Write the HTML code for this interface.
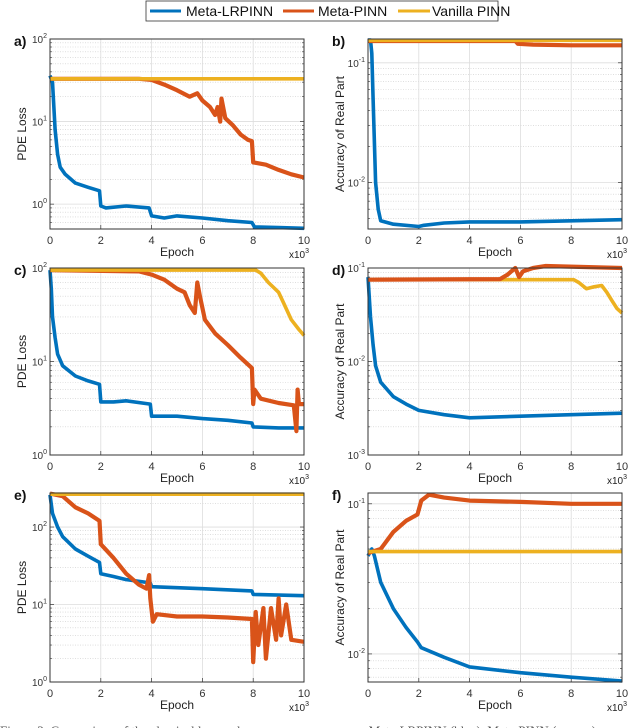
<!DOCTYPE html>
<html><head><meta charset="utf-8"><style>
html,body{margin:0;padding:0;background:#fff;width:640px;height:728px;overflow:hidden}
svg{display:block;font-family:"Liberation Sans",Arial,sans-serif}
</style></head><body>
<svg id="fig" width="640" height="728">
<g>
<rect x="146" y="1" width="352" height="20" fill="#fff" stroke="#333" stroke-width="0.8"/>
<g><line x1="150" y1="11" x2="181" y2="11" stroke="#0072BD" stroke-width="3"/><text x="186" y="16" font-size="14" fill="#111">Meta-LRPINN</text></g>
<g><line x1="283" y1="11" x2="314" y2="11" stroke="#D95319" stroke-width="3"/><text x="318" y="16" font-size="14" fill="#111">Meta-PINN</text></g>
<g><line x1="398" y1="11" x2="430" y2="11" stroke="#EDB120" stroke-width="3"/><text x="432" y="16" font-size="14" fill="#111">Vanilla PINN</text></g>
</g>
<text x="0" y="735" font-family="Liberation Serif,serif" font-size="13" fill="#555">Figure 3: Comparison of the classical loss and accuracy curves among Meta-LRPINN (blue), Meta-PINN (orange)</text>
</svg>
<script>
// ---- data (epoch in thousands) ----
const aBlueX=[0,0.1,0.2,0.3,0.4,0.6,1,1.5,1.95,2.0,2.2,3,3.9,4.0,4.5,5,6,7,7.95,8.05,9,10];
const aBlueY=[36,30,8,4,2.8,2.3,1.8,1.6,1.45,0.95,0.9,0.95,0.9,0.72,0.68,0.72,0.68,0.63,0.6,0.53,0.52,0.51];
const aOrX=[0,3.5,4,4.5,5,5.5,5.8,6,6.3,6.5,6.6,6.7,6.75,6.9,7.2,7.5,7.8,7.95,8.0,8.5,9,9.5,10];
const aOrY=[33,33,32,28,24,20,22,18,15,12,15,10,19,11,9,7,6,5.8,3.2,3,2.6,2.3,2.1];
const aYeX=[0,10];const aYeY=[33,33];

const bBlueX=[0,0.1,0.15,0.2,0.3,0.4,0.5,1,2,2.2,3,4,6,8,10];
const bBlueY=[0.155,0.155,0.12,0.05,0.01,0.006,0.0048,0.0045,0.0043,0.0044,0.0046,0.0047,0.0047,0.0048,0.0049];
const bOrX=[0,5.8,5.9,6.5,8,10];const bOrY=[0.152,0.152,0.144,0.142,0.14,0.14];
const bYeX=[0,10];const bYeY=[0.154,0.154];

const cBlueX=[0,0.05,0.1,0.2,0.3,0.5,1,1.5,1.95,2.0,2.5,3,3.95,4.0,5,6,7,7.95,8.0,9,10];
const cBlueY=[95,60,30,18,12,9,7,6.2,5.7,3.7,3.7,3.8,3.5,2.6,2.6,2.45,2.35,2.2,2.0,1.95,1.95];
const cOrX=[0,3.5,4,4.5,5,5.3,5.5,5.7,5.8,5.9,6.1,6.5,7,7.5,7.95,8.0,8.05,8.3,9,9.6,9.7,9.75,9.8,10];
const cOrY=[95,92,85,75,60,55,40,33,70,50,28,20,15,11,8.5,3.5,5,4,3.6,3.4,1.8,5,3.5,3.5];
const cYeX=[0,8.1,8.3,8.6,9,9.2,9.5,9.8,10];
const cYeY=[95,95,88,70,55,42,28,22,19];

const dBlueX=[0,0.1,0.2,0.3,0.5,1,1.5,2,3,4,6,8,10];
const dBlueY=[0.08,0.03,0.015,0.009,0.006,0.0042,0.0035,0.003,0.0027,0.0025,0.0026,0.0027,0.0028];
const dOrX=[0,5.2,5.5,5.7,5.8,5.95,6.1,6.5,7,10];
const dOrY=[0.075,0.076,0.085,0.095,0.1,0.08,0.092,0.1,0.105,0.1];
const dYeX=[0,8.1,8.3,8.6,8.9,9.2,9.4,9.6,9.8,10];
const dYeY=[0.075,0.075,0.07,0.06,0.063,0.065,0.055,0.045,0.037,0.033];

const eBlueX=[0,0.1,0.3,0.5,1,1.5,1.95,2.0,2.5,3,3.95,4.0,6,7.95,8.0,10];
const eBlueY=[260,150,100,75,52,42,35,25,23,21,19,17,16,15,13.5,13];
const eOrX=[0,0.5,1,1.5,1.95,2.0,2.5,3,3.5,3.8,3.9,3.95,4.05,4.2,5,6,7,7.95,8.0,8.1,8.2,8.4,8.5,8.7,8.9,9.0,9.1,9.3,9.5,10];
const eOrY=[270,250,180,150,120,60,40,25,18,16,24,12,6,7.5,7,7,6.8,6.5,1.8,8,3,9,2,9,3.5,12,4,10,3.5,3.3];
const eYeX=[0,10];const eYeY=[265,265];

const fBlueX=[0,0.15,0.25,0.5,1,1.5,1.95,2.1,3,4,6,8,10];
const fBlueY=[0.045,0.05,0.045,0.03,0.02,0.015,0.012,0.011,0.0095,0.0082,0.0075,0.007,0.0066];
const fOrX=[0,0.5,1,1.5,1.95,2.1,2.4,3,4,6,8,10];
const fOrY=[0.047,0.05,0.065,0.077,0.085,0.105,0.115,0.11,0.105,0.103,0.1,0.1];
const fYeX=[0,10];const fYeY=[0.048,0.048];

const xTicks=[0,2,4,6,8,10];

const NS="http://www.w3.org/2000/svg";
const svg=document.getElementById('fig');
function mk(tag,attrs,parent){const e=document.createElementNS(NS,tag);for(const k in attrs)e.setAttribute(k,attrs[k]);parent.appendChild(e);return e;}

const panels=[
 {id:'a',L:50,R:304,T:39,B:229,ymin:0.5,ymax:100,ylab:'PDE Loss',s:[[aBlueX,aBlueY,'#0072BD','meta-lrpinn'],[aOrX,aOrY,'#D95319','meta-pinn'],[aYeX,aYeY,'#EDB120','vanilla-pinn']]},
 {id:'b',L:368,R:622,T:39,B:229,ymin:0.0041,ymax:0.158,ylab:'Accuracy of Real Part',s:[[bBlueX,bBlueY,'#0072BD','meta-lrpinn'],[bOrX,bOrY,'#D95319','meta-pinn'],[bYeX,bYeY,'#EDB120','vanilla-pinn']]},
 {id:'c',L:50,R:304,T:268,B:455,ymin:1,ymax:100,ylab:'PDE Loss',s:[[cBlueX,cBlueY,'#0072BD','meta-lrpinn'],[cOrX,cOrY,'#D95319','meta-pinn'],[cYeX,cYeY,'#EDB120','vanilla-pinn']]},
 {id:'d',L:368,R:622,T:268,B:455,ymin:0.001,ymax:0.1,ylab:'Accuracy of Real Part',s:[[dBlueX,dBlueY,'#0072BD','meta-lrpinn'],[dYeX,dYeY,'#EDB120','vanilla-pinn'],[dOrX,dOrY,'#D95319','meta-pinn']]},
 {id:'e',L:50,R:304,T:493,B:682,ymin:1,ymax:275,ylab:'PDE Loss',s:[[eBlueX,eBlueY,'#0072BD','meta-lrpinn'],[eOrX,eOrY,'#D95319','meta-pinn'],[eYeX,eYeY,'#EDB120','vanilla-pinn']]},
 {id:'f',L:368,R:622,T:493,B:682,ymin:0.0065,ymax:0.118,ylab:'Accuracy of Real Part',s:[[fBlueX,fBlueY,'#0072BD','meta-lrpinn'],[fOrX,fOrY,'#D95319','meta-pinn'],[fYeX,fYeY,'#EDB120','vanilla-pinn']]}
];

panels.forEach(p=>{
 const g=mk('g',{},svg);
 
 
 const lmin=Math.log10(p.ymin),lmax=Math.log10(p.ymax);
 const X=v=>p.L+(v/10)*(p.R-p.L);
 const Y=v=>p.B-(Math.log10(v)-lmin)/(lmax-lmin)*(p.B-p.T);
 mk('rect',{x:p.L,y:p.T,width:p.R-p.L,height:p.B-p.T,fill:'#fff'},g);
 const grid=mk('g',{},g);
 
 
 for(let e=Math.floor(lmin);e<=Math.ceil(lmax);e++){
  for(let m=1;m<10;m++){
   const v=m*Math.pow(10,e);
   if(v<p.ymin*0.999||v>p.ymax*1.001)continue;
   const y=Y(v);
   if(m===1){
    mk('line',{x1:p.L,x2:p.R,y1:y,y2:y,stroke:'#ddd','stroke-width':0.8},grid);
    const t=mk('text',{x:p.L-3,y:y+4,'text-anchor':'end','font-size':10,fill:'#333'},g);
    
    
    t.textContent='10';
    const sp=mk('tspan',{dy:-5,'font-size':7},t);sp.textContent=String(e);
    mk('line',{x1:p.L,x2:p.L+4,y1:y,y2:y,stroke:'#333','stroke-width':0.7},g);
    mk('line',{x1:p.R,x2:p.R-4,y1:y,y2:y,stroke:'#333','stroke-width':0.7},g);
   }else{
    mk('line',{x1:p.L,x2:p.R,y1:y,y2:y,stroke:'#ccc','stroke-width':0.6,'stroke-dasharray':'1,1.5'},grid);
    mk('line',{x1:p.L,x2:p.L+2,y1:y,y2:y,stroke:'#333','stroke-width':0.6},g);
    mk('line',{x1:p.R,x2:p.R-2,y1:y,y2:y,stroke:'#333','stroke-width':0.6},g);
   }
  }
 }
 xTicks.forEach(v=>{
  const x=X(v);
  if(v>0&&v<10)mk('line',{x1:x,x2:x,y1:p.T,y2:p.B,stroke:'#ddd','stroke-width':0.8},grid);
  mk('line',{x1:x,x2:x,y1:p.B,y2:p.B-4,stroke:'#333','stroke-width':0.7},g);
  const t=mk('text',{x:x,y:p.B+15,'text-anchor':'middle','font-size':11,fill:'#333'},g);
  
  
  t.textContent=String(v);
 });
 p.s.forEach(([xs,ys,col,nm])=>{
  const pts=xs.map((x,i)=>X(x).toFixed(1)+','+Y(ys[i]).toFixed(1)).join(' ');
  const pl=mk('polyline',{points:pts,fill:'none',stroke:col,'stroke-width':nm==='meta-pinn'?4.2:3.6,'stroke-linejoin':'round','stroke-linecap':'butt'},g);
  
  
 });
 mk('rect',{x:p.L,y:p.T,width:p.R-p.L,height:p.B-p.T,fill:'none',stroke:'#333','stroke-width':1},g);
 const xl=mk('text',{x:(p.L+p.R)/2,y:p.B+27,'text-anchor':'middle','font-size':12,fill:'#222'},g);
 
 
 xl.textContent='Epoch';
 const xm=mk('text',{x:p.R-15,y:p.B+29,'font-size':10,fill:'#222'},g);
 
 
 xm.textContent='x10';
 const xs2=mk('tspan',{dy:-5,'font-size':7},xm);xs2.textContent='3';
 const yx=p.L-24,yy=(p.T+p.B)/2;
 const yl=mk('text',{x:yx,y:yy,'text-anchor':'middle','font-size':12,fill:'#222',transform:`rotate(-90 ${yx} ${yy})`},g);
 
 
 yl.textContent=p.ylab;
 const pl=mk('text',{x:p.L-36,y:p.T+7,'font-size':14,'font-weight':'bold',fill:'#111'},g);
 
 
 pl.textContent=p.id+')';
});
</script>
</body></html>
